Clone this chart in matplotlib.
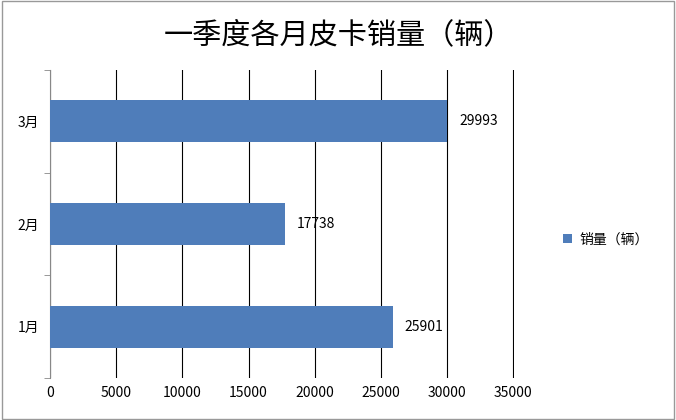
import matplotlib
matplotlib.use("Agg")
import matplotlib.pyplot as plt
from matplotlib.patches import Rectangle

plt.rcParams['font.family'] = ['Noto Sans CJK SC', 'DejaVu Sans']

categories = ['1月', '2月', '3月']
values = [25901, 17738, 29993]
xticks = [0, 5000, 10000, 15000, 20000, 25000, 30000, 35000]
xticklabels = ['0', '5000', '10000', '15000', '20000', '25000', '30000', '35000']
color = '#4F7DBA'

fig = plt.figure(figsize=(6.76, 4.2), dpi=100)
fig.patches.append(Rectangle((0.003, 0.003), 0.994, 0.994, transform=fig.transFigure,
                             fill=False, edgecolor='#999999', lw=1))
ax = fig.add_axes([50/676, 42/420, 464/676, 308/420])
y = list(range(len(categories)))
bars = ax.barh(y, values, height=0.41, color=color, zorder=3)
for yi, v in zip(y, values):
    ax.text(v + 900, yi, str(v), va='center', ha='left', fontsize=10, color='black')
ax.set_xlim(0, 35050)
ax.set_ylim(-0.5, 2.5)
ax.set_xticks(xticks)
ax.set_xticklabels(xticklabels, fontsize=10)
ax.set_yticks(y)
ax.set_yticklabels(categories, fontsize=10)
ax.set_yticks([-0.5, 0.5, 1.5, 2.5], minor=True)
ax.tick_params(axis='y', which='major', length=0, pad=8)
ax.tick_params(axis='y', which='minor', length=4, color='#888888')
ax.tick_params(axis='x', length=0, pad=6)
ax.grid(axis='x', color='black', lw=0.8, zorder=0)
for s in ['top', 'right', 'bottom']:
    ax.spines[s].set_visible(False)
ax.spines['left'].set_color('#888888')
ax.legend([bars], ['销量（辆）'], loc='center left', bbox_to_anchor=(500/464, 0.45),
          frameon=False, fontsize=10, handlelength=0.7, handleheight=0.7, handletextpad=0.5)
fig.text(0.5, 1 - 35/420, '一季度各月皮卡销量（辆）', ha='center', va='center', fontsize=21)
fig.savefig('out.png', dpi=100)
